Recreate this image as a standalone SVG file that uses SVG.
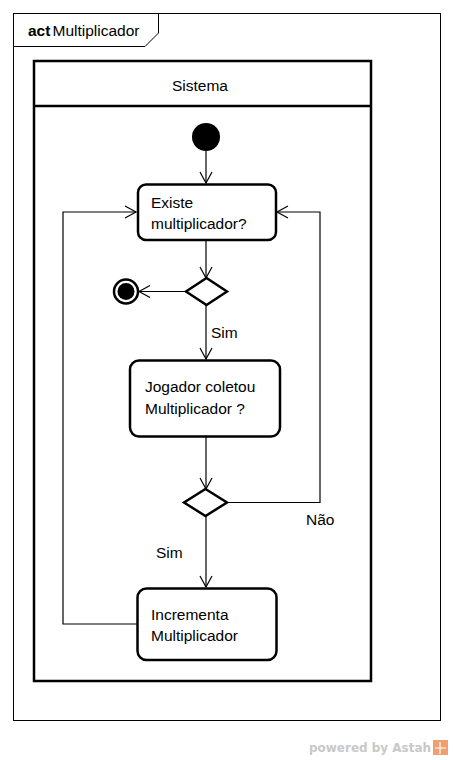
<svg xmlns="http://www.w3.org/2000/svg" width="453" height="760" viewBox="0 0 453 760">
<style>
text{font-family:"Liberation Sans",Arial,sans-serif;font-size:15.5px;fill:#000}
.node{fill:#fff;stroke:#000;stroke-width:2.5}
.edge{fill:none;stroke:#000;stroke-width:1.2}
.head{fill:none;stroke:#000;stroke-width:1.2}
</style>
<rect width="453" height="760" fill="#fff"/>
<g id="frame">
<rect x="13.5" y="13.5" width="427" height="707" fill="none" stroke="#000" stroke-width="1"/>
<path d="M13.5,46.5 H145 L158.5,33 V13.5" fill="none" stroke="#000" stroke-width="1"/>
<text x="28" y="36"><tspan font-weight="bold">act</tspan><tspan x="52.5">Multiplicador</tspan></text>
</g>
<g id="partition">
<rect x="34" y="61" width="337" height="620" fill="none" stroke="#000" stroke-width="2.5"/>
<line x1="34" y1="106" x2="371" y2="106" stroke="#000" stroke-width="2.5"/>
<text x="200" y="91" text-anchor="middle">Sistema</text>
</g>
<g id="connectors">
<path class="edge" d="M206,151 V183"/>
<path class="head" d="M200,172 L206,183 L212,172"/>
<path class="edge" d="M206,241 V278"/>
<path class="head" d="M200,267 L206,278 L212,267"/>
<path class="edge" d="M186,291.5 H139"/>
<path class="head" d="M150,285.5 L139,291.5 L150,297.5"/>
<path class="edge" d="M206,305 V359"/>
<path class="head" d="M200,348 L206,359 L212,348"/>
<text x="211" y="338">Sim</text>
<path class="edge" d="M206,437 V489"/>
<path class="head" d="M200,478 L206,489 L212,478"/>
<path class="edge" d="M227,502.5 H320 V212 H277"/>
<path class="head" d="M288,206 L277,212 L288,218"/>
<text x="306" y="525">Não</text>
<path class="edge" d="M206,516 V587"/>
<path class="head" d="M200,576 L206,587 L212,576"/>
<text x="156" y="558">Sim</text>
<path class="edge" d="M137,624 H63 V212 H136"/>
<path class="head" d="M125,206 L136,212 L125,218"/>
</g>
<g id="initial">
<circle cx="206" cy="137" r="14" fill="#000"/>
</g>
<g id="existe">
<rect class="node" x="138" y="184.5" width="138" height="55.5" rx="8"/>
<text x="151" y="208">Existe</text>
<text x="151" y="229">multiplicador?</text>
</g>
<g id="decision1">
<polygon class="node" points="206.5,278 227,291.5 206.5,305 186,291.5"/>
</g>
<g id="final">
<circle cx="126" cy="291.5" r="12" fill="#fff" stroke="#000" stroke-width="2.5"/>
<circle cx="126" cy="291.5" r="8.5" fill="#000"/>
</g>
<g id="jogador">
<rect class="node" x="130" y="360.5" width="150" height="76" rx="9"/>
<text x="145" y="392">Jogador coletou</text>
<text x="145" y="414">Multiplicador ?</text>
</g>
<g id="decision2">
<polygon class="node" points="205.5,489 227,502.5 205.5,516 184,502.5"/>
</g>
<g id="incrementa">
<rect class="node" x="137.5" y="588.5" width="139" height="71.5" rx="9"/>
<text x="151" y="620">Incrementa</text>
<text x="151" y="641">Multiplicador</text>
</g>
<g id="watermark">
<text x="309" y="752" textLength="122" lengthAdjust="spacingAndGlyphs" style="font-family:'DejaVu Sans',sans-serif;font-size:13px;font-weight:bold;fill:#c8c8c8">powered by Astah</text>
<rect x="433" y="740" width="15" height="15" fill="#f0a070"/>
<path d="M435,748 H446 M440,742 V754" stroke="#fff" stroke-width="1.2"/>
</g>
</svg>
